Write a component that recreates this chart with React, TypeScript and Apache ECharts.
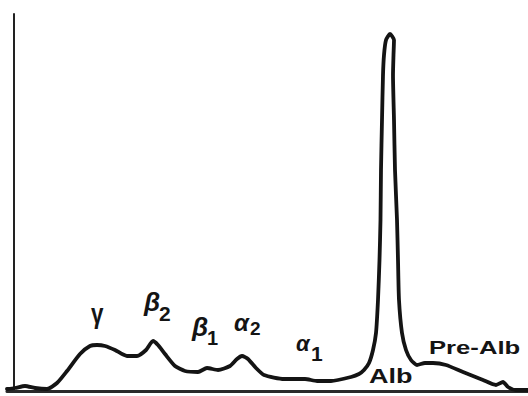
import React, { useEffect, useRef } from "react";
import * as echarts from "echarts";

// Densitometric scan of a serum protein electrophoresis strip.
// Mobility is measured from the application point (cathode side on the left).
const mobility = [
  -7, 1, 11, 21, 33, 43, 53, 66, 76, 83, 91, 101, 113, 123, 132, 139, 144, 151,
  161, 171, 184, 193, 204, 216, 223, 228, 234, 242, 250, 270, 291, 303, 317, 337,
  345, 350, 355, 359, 362, 364, 365.5, 366.5, 367, 368, 369, 370, 372, 376, 380,
  379.5, 379, 380, 381, 383, 384, 385, 388, 392, 397, 403, 411, 419, 432, 449,
  469, 482, 489, 494, 502, 514,
];
const density = [
  2, 3, 5, 3, 2, 8, 20, 37, 45, 46, 45, 41, 35, 35, 41, 50, 46, 37, 25, 20, 19,
  23, 21, 25, 32, 35, 32, 23, 16, 12, 12, 10, 10, 14, 17, 21, 28, 41, 58, 91, 131,
  171, 221, 271, 316, 336, 351, 357, 351, 336, 316, 271, 221, 171, 131, 91, 58,
  41, 31, 26, 28, 28, 26, 19, 11, 6, 9, 4, 1, 1,
];

// Fraction names with their subscripts
const fractionSymbols = ["γ", "β", "β", "α", "α", "Alb", "Pre-Alb"];
const fractionSubscripts = ["", "2", "1", "2", "1", "", ""];

// Placement of each fraction label above its band
const labelLayout = [
  { x: 91, y: 299, size: 28, italic: false, scaleX: 0.8, subX: 0, subY: 0, subSize: 0 },
  { x: 144, y: 289, size: 26, italic: true, scaleX: 1, subX: 159, subY: 303, subSize: 21 },
  { x: 192, y: 314, size: 26, italic: true, scaleX: 1, subX: 207, subY: 328, subSize: 20 },
  { x: 234, y: 310, size: 24, italic: true, scaleX: 1, subX: 250, subY: 319, subSize: 19 },
  { x: 296, y: 332, size: 22, italic: true, scaleX: 1, subX: 311, subY: 343, subSize: 21 },
  { x: 369, y: 366, size: 20, italic: false, scaleX: 1.35, subX: 0, subY: 0, subSize: 0 },
  { x: 429, y: 338, size: 19, italic: false, scaleX: 1.35, subX: 0, subY: 0, subSize: 0 },
];

const INK = "#141414";
const FONT = '"Liberation Sans", Arial, sans-serif';

export default function App() {
  const ref = useRef<HTMLDivElement>(null);

  useEffect(() => {
    if (!ref.current) return;
    const chart = echarts.init(ref.current, null, { renderer: "svg" });

    const graphic: any[] = [];
    fractionSymbols.forEach((sym, i) => {
      const l = labelLayout[i];
      graphic.push({
        type: "text",
        x: l.x,
        y: l.y,
        scaleX: l.scaleX,
        z: 10,
        style: {
          text: sym,
          fill: INK,
          font: `${l.italic ? "italic " : ""}bold ${l.size}px ${FONT}`,
          align: "left",
          verticalAlign: "top",
        },
      });
      if (fractionSubscripts[i]) {
        graphic.push({
          type: "text",
          x: l.subX,
          y: l.subY,
          z: 10,
          style: {
            text: fractionSubscripts[i],
            fill: INK,
            font: `bold ${l.subSize}px ${FONT}`,
            align: "left",
            verticalAlign: "top",
          },
        });
      }
    });

    chart.setOption({
      animation: false,
      backgroundColor: "#ffffff",
      grid: { left: 7, right: 0, top: 14, bottom: 5 },
      xAxis: {
        type: "value",
        min: -7,
        max: 514,
        axisLine: { show: true, onZero: true, lineStyle: { color: "#2a2a2a", width: 3 } },
        axisTick: { show: false },
        axisLabel: { show: false },
        splitLine: { show: false },
      },
      yAxis: {
        type: "value",
        min: 0,
        max: 377,
        axisLine: { show: true, onZero: true, lineStyle: { color: "#222222", width: 2 } },
        axisTick: { show: false },
        axisLabel: { show: false },
        splitLine: { show: false },
      },
      series: [
        {
          type: "line",
          data: mobility.map((m, i) => [m, density[i]]),
          smooth: 0.2,
          symbol: "none",
          lineStyle: { color: INK, width: 3.8, join: "round", cap: "round" },
          z: 5,
        },
      ],
      graphic,
    });

    return () => chart.dispose();
  }, []);

  return <div ref={ref} style={{ position: "absolute", left: 0, top: 0, width: 528, height: 396 }} />;
}
